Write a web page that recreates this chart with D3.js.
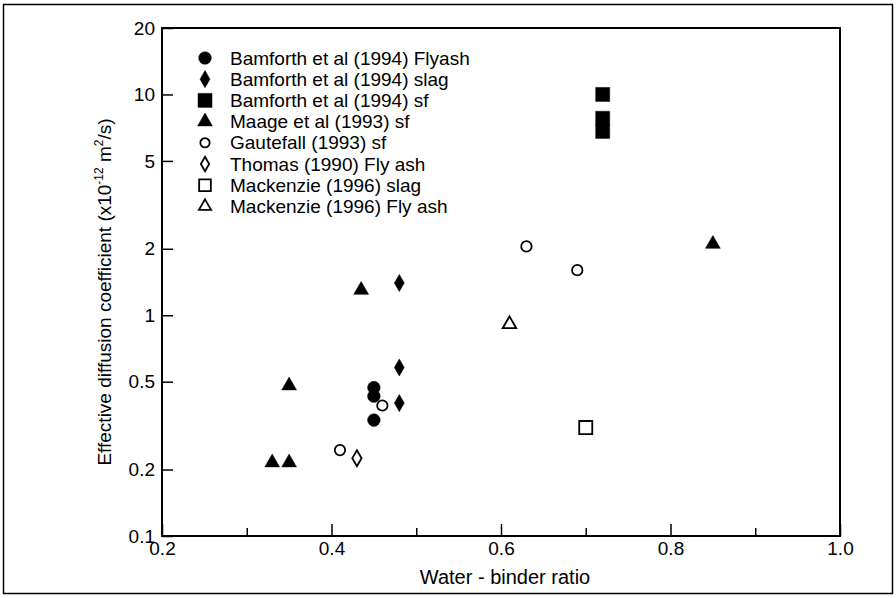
<!DOCTYPE html>
<html>
<head>
<meta charset="utf-8">
<script src="https://cdn.jsdelivr.net/npm/d3@7"></script>
<style>
  body { margin: 0; background: #fff; }
  svg text { font-family: "Liberation Sans", Arial, sans-serif; fill: #000; }
</style>
</head>
<body>
<div id="chart"></div>
<script>
// Data
const bamFlyashX = [0.45, 0.45, 0.45];
const bamFlyashY = [0.47, 0.43, 0.335];
const bamSlagX = [0.48, 0.48, 0.48];
const bamSlagY = [1.4, 0.58, 0.40];
const bamSfX = [0.72, 0.72, 0.72];
const bamSfY = [10, 7.8, 6.8];
const maageX = [0.33, 0.35, 0.35, 0.435, 0.85];
const maageY = [0.215, 0.215, 0.48, 1.3, 2.1];
const gautefallX = [0.41, 0.46, 0.63, 0.69];
const gautefallY = [0.245, 0.39, 2.05, 1.6];
const thomasX = [0.43];
const thomasY = [0.225];
const mackSlagX = [0.70];
const mackSlagY = [0.31];
const mackFlyX = [0.61];
const mackFlyY = [0.91];

const xTicks = [0.2, 0.4, 0.6, 0.8, 1.0];
const xMinorTicks = [0.3, 0.5, 0.7, 0.9];
const yTicks = [0.1, 0.2, 0.5, 1, 2, 5, 10, 20];

const W = 896, H = 598;
const margin = { top: 28, right: 56, bottom: 62, left: 162 };

const svg = d3.select("#chart").append("svg")
  .attr("width", W).attr("height", H);

// outer frame
svg.append("rect")
  .attr("x", 3.5).attr("y", 4.5)
  .attr("width", 889).attr("height", 589)
  .attr("fill", "none").attr("stroke", "#000").attr("stroke-width", 1.5);

const xScale = d3.scaleLinear().domain([0.2, 1.0]).range([margin.left, W - margin.right]);
const yScale = d3.scaleLog().domain([0.1, 20]).range([H - margin.bottom, margin.top]);

// plot box
svg.append("rect")
  .attr("x", xScale(0.2)).attr("y", yScale(20))
  .attr("width", xScale(1.0) - xScale(0.2))
  .attr("height", yScale(0.1) - yScale(20))
  .attr("fill", "none").attr("stroke", "#000").attr("stroke-width", 2);

// y axis, ticks pointing inward
const yAxis = svg.append("g")
  .attr("transform", `translate(${xScale(0.2)},0)`)
  .call(d3.axisLeft(yScale).tickValues(yTicks).tickSize(-11).tickPadding(7)
    .tickFormat(d3.format("~g")));
yAxis.select(".domain").remove();
yAxis.selectAll(".tick line").attr("stroke", "#000").attr("stroke-width", 1.5);
yAxis.selectAll("text").style("font-size", "19px");

// x axis
const xAxis = svg.append("g")
  .attr("transform", `translate(0,${yScale(0.1)})`)
  .call(d3.axisBottom(xScale).tickValues(xTicks).tickSize(-12).tickPadding(6)
    .tickFormat(d3.format(".1f")));
xAxis.select(".domain").remove();
xAxis.selectAll(".tick line").attr("stroke", "#000").attr("stroke-width", 1.5);
xAxis.selectAll("text").style("font-size", "19px");

const xMinor = svg.append("g")
  .attr("transform", `translate(0,${yScale(0.1)})`)
  .call(d3.axisBottom(xScale).tickValues(xMinorTicks).tickSize(-8).tickFormat(""));
xMinor.select(".domain").remove();
xMinor.selectAll(".tick line").attr("stroke", "#000").attr("stroke-width", 1.5);

// axis titles
svg.append("text")
  .attr("x", 505)
  .attr("y", 584)
  .attr("text-anchor", "middle")
  .style("font-size", "20px")
  .text("Water - binder ratio");

const yTitle = svg.append("text")
  .attr("transform", "translate(111,292) rotate(-90)")
  .attr("text-anchor", "middle")
  .style("font-size", "19px");
yTitle.append("tspan").text("Effective diffusion coefficient (x10");
yTitle.append("tspan").attr("dy", -8).style("font-size", "12px").text("-12");
yTitle.append("tspan").attr("dy", 8).text(" m");
yTitle.append("tspan").attr("dy", -8).style("font-size", "12px").text("2");
yTitle.append("tspan").attr("dy", 8).text("/s)");

// series definitions
const series = [
  { name: "Bamforth et al (1994) Flyash", x: bamFlyashX, y: bamFlyashY, type: d3.symbolCircle, size: 125, filled: true },
  { name: "Bamforth et al (1994) slag", x: bamSlagX, y: bamSlagY, type: d3.symbolDiamond, size: 85, filled: true },
  { name: "Bamforth et al (1994) sf", x: bamSfX, y: bamSfY, type: d3.symbolSquare, size: 196, filled: true },
  { name: "Maage et al (1993) sf", x: maageX, y: maageY, type: d3.symbolTriangle, size: 95, filled: true },
  { name: "Gautefall (1993) sf", x: gautefallX, y: gautefallY, type: d3.symbolCircle, size: 85, filled: false },
  { name: "Thomas (1990) Fly ash", x: thomasX, y: thomasY, type: d3.symbolDiamond, size: 75, filled: false },
  { name: "Mackenzie (1996) slag", x: mackSlagX, y: mackSlagY, type: d3.symbolSquare, size: 170, filled: false },
  { name: "Mackenzie (1996) Fly ash", x: mackFlyX, y: mackFlyY, type: d3.symbolTriangle, size: 80, filled: false }
];

function styleMark(sel, s) {
  sel.attr("fill", s.filled ? "#000" : "#fff")
    .attr("stroke", "#000")
    .attr("stroke-width", s.filled ? 0.5 : 1.8);
}

series.forEach((s) => {
  const pts = s.x.map((xv, i) => ({ x: xv, y: s.y[i] }));
  svg.append("g").selectAll("path")
    .data(pts)
    .enter()
    .append("path")
    .attr("d", d3.symbol().type(s.type).size(s.size))
    .attr("transform", (d) => `translate(${xScale(d.x)},${yScale(d.y)})`)
    .call(styleMark, s);
});

// legend
const legend = svg.selectAll(".legend")
  .data(series)
  .enter()
  .append("g")
  .attr("class", "legend")
  .attr("transform", (d, i) => `translate(205,${58 + i * 21.2})`);

legend.append("path")
  .attr("d", (d) => d3.symbol().type(d.type).size(d.filled ? d.size : d.size * 0.8)())
  .each(function (d) { styleMark(d3.select(this), d); });

legend.append("text")
  .attr("x", 25)
  .attr("dy", "0.35em")
  .style("font-size", "19px")
  .text((d) => d.name);
</script>
</body>
</html>
